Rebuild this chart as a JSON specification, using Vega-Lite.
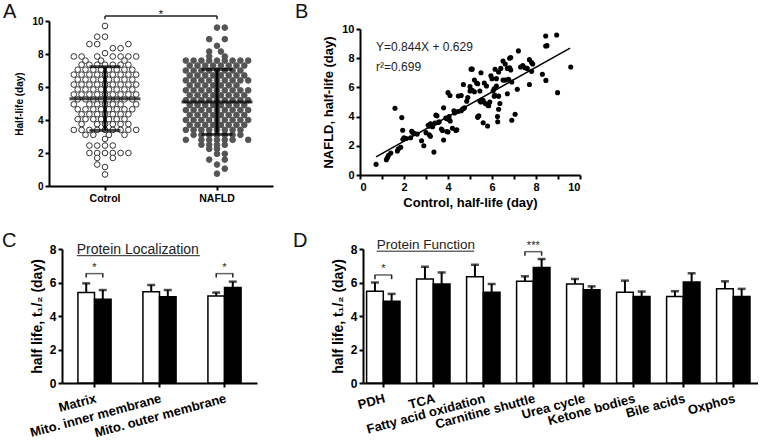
{
"$schema":"https://vega.github.io/schema/vega-lite/v6.json",
"background":"white",
"padding":{"left":2,"top":1,"right":0,"bottom":0},
"config":{"font":"Liberation Sans","view":{"stroke":null},
"axis":{"domainColor":"black","domainWidth":2,"tickColor":"black","tickWidth":2,"tickSize":4,"labelColor":"black","titleColor":"black","labelFontWeight":"bold","titleFontWeight":"bold","grid":false,"labelPadding":2},
"axisY":{"labelOverlap":false}},
"datasets":{
"a":[
{"g":"Cotrol","v":9.7,"s":0},{"g":"Cotrol","v":9.05,"s":-1},{"g":"Cotrol","v":9.05,"s":0},
{"g":"Cotrol","v":8.6,"s":-2},{"g":"Cotrol","v":8.6,"s":-1},{"g":"Cotrol","v":8.6,"s":3},
{"g":"Cotrol","v":8.35,"s":1},{"g":"Cotrol","v":8.35,"s":2},{"g":"Cotrol","v":8.05,"s":0},
{"g":"Cotrol","v":7.85,"s":-4},{"g":"Cotrol","v":7.85,"s":-3},{"g":"Cotrol","v":7.85,"s":-1},{"g":"Cotrol","v":7.85,"s":1},{"g":"Cotrol","v":7.85,"s":2},{"g":"Cotrol","v":7.85,"s":3},{"g":"Cotrol","v":7.85,"s":4},
{"g":"Cotrol","v":7.6,"s":-2.5},{"g":"Cotrol","v":7.6,"s":-0.5},{"g":"Cotrol","v":7.6,"s":2.5},
{"g":"Cotrol","v":7.35,"s":-3},{"g":"Cotrol","v":7.35,"s":-2},{"g":"Cotrol","v":7.35,"s":-1},{"g":"Cotrol","v":7.35,"s":0},{"g":"Cotrol","v":7.35,"s":1},{"g":"Cotrol","v":7.35,"s":2},{"g":"Cotrol","v":7.35,"s":3},
{"g":"Cotrol","v":7.05,"s":-3.5},{"g":"Cotrol","v":7.05,"s":-2.5},{"g":"Cotrol","v":7.05,"s":-1.5},{"g":"Cotrol","v":7.05,"s":-0.5},{"g":"Cotrol","v":7.05,"s":0.5},{"g":"Cotrol","v":7.05,"s":1.5},{"g":"Cotrol","v":7.05,"s":2.5},{"g":"Cotrol","v":7.05,"s":3.5},
{"g":"Cotrol","v":6.75,"s":-4},{"g":"Cotrol","v":6.75,"s":-3},{"g":"Cotrol","v":6.75,"s":-2},{"g":"Cotrol","v":6.75,"s":-1},{"g":"Cotrol","v":6.75,"s":0},{"g":"Cotrol","v":6.75,"s":1},{"g":"Cotrol","v":6.75,"s":2},{"g":"Cotrol","v":6.75,"s":3},{"g":"Cotrol","v":6.75,"s":4},
{"g":"Cotrol","v":6.45,"s":-3.5},{"g":"Cotrol","v":6.45,"s":-2.5},{"g":"Cotrol","v":6.45,"s":-1.5},{"g":"Cotrol","v":6.45,"s":-0.5},{"g":"Cotrol","v":6.45,"s":0.5},{"g":"Cotrol","v":6.45,"s":1.5},{"g":"Cotrol","v":6.45,"s":2.5},{"g":"Cotrol","v":6.45,"s":3.5},
{"g":"Cotrol","v":6.15,"s":-4},{"g":"Cotrol","v":6.15,"s":-3},{"g":"Cotrol","v":6.15,"s":-2},{"g":"Cotrol","v":6.15,"s":-1},{"g":"Cotrol","v":6.15,"s":0},{"g":"Cotrol","v":6.15,"s":1},{"g":"Cotrol","v":6.15,"s":2},{"g":"Cotrol","v":6.15,"s":3},{"g":"Cotrol","v":6.15,"s":4},
{"g":"Cotrol","v":5.85,"s":-3.5},{"g":"Cotrol","v":5.85,"s":-2.5},{"g":"Cotrol","v":5.85,"s":-1.5},{"g":"Cotrol","v":5.85,"s":-0.5},{"g":"Cotrol","v":5.85,"s":0.5},{"g":"Cotrol","v":5.85,"s":1.5},{"g":"Cotrol","v":5.85,"s":2.5},{"g":"Cotrol","v":5.85,"s":3.5},
{"g":"Cotrol","v":5.55,"s":-4},{"g":"Cotrol","v":5.55,"s":-3},{"g":"Cotrol","v":5.55,"s":-2},{"g":"Cotrol","v":5.55,"s":-1},{"g":"Cotrol","v":5.55,"s":0},{"g":"Cotrol","v":5.55,"s":1},{"g":"Cotrol","v":5.55,"s":2},{"g":"Cotrol","v":5.55,"s":3},{"g":"Cotrol","v":5.55,"s":4},
{"g":"Cotrol","v":5.25,"s":-3.5},{"g":"Cotrol","v":5.25,"s":-2.5},{"g":"Cotrol","v":5.25,"s":-1.5},{"g":"Cotrol","v":5.25,"s":-0.5},{"g":"Cotrol","v":5.25,"s":0.5},{"g":"Cotrol","v":5.25,"s":1.5},{"g":"Cotrol","v":5.25,"s":2.5},{"g":"Cotrol","v":5.25,"s":3.5},
{"g":"Cotrol","v":4.95,"s":-4},{"g":"Cotrol","v":4.95,"s":-2},{"g":"Cotrol","v":4.95,"s":-1},{"g":"Cotrol","v":4.95,"s":0},{"g":"Cotrol","v":4.95,"s":1},{"g":"Cotrol","v":4.95,"s":2},{"g":"Cotrol","v":4.95,"s":4},
{"g":"Cotrol","v":4.65,"s":-3.5},{"g":"Cotrol","v":4.65,"s":-2.5},{"g":"Cotrol","v":4.65,"s":-1.5},{"g":"Cotrol","v":4.65,"s":-0.5},{"g":"Cotrol","v":4.65,"s":0.5},{"g":"Cotrol","v":4.65,"s":1.5},{"g":"Cotrol","v":4.65,"s":2.5},{"g":"Cotrol","v":4.65,"s":3.5},
{"g":"Cotrol","v":4.35,"s":-3},{"g":"Cotrol","v":4.35,"s":-2},{"g":"Cotrol","v":4.35,"s":-1},{"g":"Cotrol","v":4.35,"s":0},{"g":"Cotrol","v":4.35,"s":1},{"g":"Cotrol","v":4.35,"s":2},{"g":"Cotrol","v":4.35,"s":3},
{"g":"Cotrol","v":4.05,"s":-3.5},{"g":"Cotrol","v":4.05,"s":-2.5},{"g":"Cotrol","v":4.05,"s":-1.5},{"g":"Cotrol","v":4.05,"s":-0.5},{"g":"Cotrol","v":4.05,"s":0.5},{"g":"Cotrol","v":4.05,"s":1.5},{"g":"Cotrol","v":4.05,"s":2.5},
{"g":"Cotrol","v":3.75,"s":-3},{"g":"Cotrol","v":3.75,"s":-1},{"g":"Cotrol","v":3.75,"s":0},{"g":"Cotrol","v":3.75,"s":1},{"g":"Cotrol","v":3.75,"s":2},{"g":"Cotrol","v":3.75,"s":3},
{"g":"Cotrol","v":3.4,"s":-4},{"g":"Cotrol","v":3.4,"s":-3},{"g":"Cotrol","v":3.4,"s":-2},{"g":"Cotrol","v":3.4,"s":-1},{"g":"Cotrol","v":3.4,"s":0},{"g":"Cotrol","v":3.4,"s":1},{"g":"Cotrol","v":3.4,"s":2},{"g":"Cotrol","v":3.4,"s":3},{"g":"Cotrol","v":3.4,"s":4},
{"g":"Cotrol","v":3.1,"s":-2.5},{"g":"Cotrol","v":3.1,"s":-1.5},{"g":"Cotrol","v":3.1,"s":0.5},{"g":"Cotrol","v":3.1,"s":2.5},
{"g":"Cotrol","v":2.85,"s":0},
{"g":"Cotrol","v":2.45,"s":-2},{"g":"Cotrol","v":2.45,"s":-1},{"g":"Cotrol","v":2.45,"s":0},{"g":"Cotrol","v":2.45,"s":1},
{"g":"Cotrol","v":2.0,"s":-2},{"g":"Cotrol","v":2.0,"s":-1},{"g":"Cotrol","v":2.0,"s":0},{"g":"Cotrol","v":2.0,"s":1},{"g":"Cotrol","v":2.0,"s":2},{"g":"Cotrol","v":2.0,"s":3},
{"g":"Cotrol","v":1.7,"s":-1},{"g":"Cotrol","v":1.7,"s":1},{"g":"Cotrol","v":1.3,"s":-1},{"g":"Cotrol","v":1.15,"s":0},{"g":"Cotrol","v":0.7,"s":0},
{"g":"NAFLD","v":9.6,"s":0},{"g":"NAFLD","v":9.6,"s":1},{"g":"NAFLD","v":8.9,"s":-1},{"g":"NAFLD","v":8.9,"s":1},{"g":"NAFLD","v":8.5,"s":0},
{"g":"NAFLD","v":8.15,"s":-1},{"g":"NAFLD","v":8.15,"s":0.5},{"g":"NAFLD","v":7.85,"s":-1},{"g":"NAFLD","v":7.85,"s":1},
{"g":"NAFLD","v":7.6,"s":-4},{"g":"NAFLD","v":7.6,"s":-3},{"g":"NAFLD","v":7.6,"s":-2},{"g":"NAFLD","v":7.6,"s":-1},{"g":"NAFLD","v":7.6,"s":0},{"g":"NAFLD","v":7.6,"s":1},{"g":"NAFLD","v":7.6,"s":2},{"g":"NAFLD","v":7.6,"s":3},{"g":"NAFLD","v":7.6,"s":4},
{"g":"NAFLD","v":7.3,"s":-3.5},{"g":"NAFLD","v":7.3,"s":-2.5},{"g":"NAFLD","v":7.3,"s":-1.5},{"g":"NAFLD","v":7.3,"s":-0.5},{"g":"NAFLD","v":7.3,"s":0.5},{"g":"NAFLD","v":7.3,"s":1.5},{"g":"NAFLD","v":7.3,"s":2.5},{"g":"NAFLD","v":7.3,"s":3.5},
{"g":"NAFLD","v":7.0,"s":-4},{"g":"NAFLD","v":7.0,"s":-3},{"g":"NAFLD","v":7.0,"s":-2},{"g":"NAFLD","v":7.0,"s":-1},{"g":"NAFLD","v":7.0,"s":0},{"g":"NAFLD","v":7.0,"s":1},{"g":"NAFLD","v":7.0,"s":2},{"g":"NAFLD","v":7.0,"s":3},
{"g":"NAFLD","v":6.7,"s":-3.5},{"g":"NAFLD","v":6.7,"s":-2.5},{"g":"NAFLD","v":6.7,"s":-1.5},{"g":"NAFLD","v":6.7,"s":-0.5},{"g":"NAFLD","v":6.7,"s":0.5},{"g":"NAFLD","v":6.7,"s":1.5},{"g":"NAFLD","v":6.7,"s":2.5},{"g":"NAFLD","v":6.7,"s":3.5},
{"g":"NAFLD","v":6.4,"s":-4},{"g":"NAFLD","v":6.4,"s":-3},{"g":"NAFLD","v":6.4,"s":-2},{"g":"NAFLD","v":6.4,"s":-1},{"g":"NAFLD","v":6.4,"s":0},{"g":"NAFLD","v":6.4,"s":1},{"g":"NAFLD","v":6.4,"s":2},{"g":"NAFLD","v":6.4,"s":3},{"g":"NAFLD","v":6.4,"s":4},
{"g":"NAFLD","v":6.1,"s":-3.5},{"g":"NAFLD","v":6.1,"s":-2.5},{"g":"NAFLD","v":6.1,"s":-1.5},{"g":"NAFLD","v":6.1,"s":-0.5},{"g":"NAFLD","v":6.1,"s":0.5},{"g":"NAFLD","v":6.1,"s":1.5},{"g":"NAFLD","v":6.1,"s":2.5},
{"g":"NAFLD","v":5.8,"s":-4},{"g":"NAFLD","v":5.8,"s":-3},{"g":"NAFLD","v":5.8,"s":-2},{"g":"NAFLD","v":5.8,"s":-1},{"g":"NAFLD","v":5.8,"s":0},{"g":"NAFLD","v":5.8,"s":1},{"g":"NAFLD","v":5.8,"s":2},{"g":"NAFLD","v":5.8,"s":3},{"g":"NAFLD","v":5.8,"s":4},
{"g":"NAFLD","v":5.5,"s":-3.5},{"g":"NAFLD","v":5.5,"s":-2.5},{"g":"NAFLD","v":5.5,"s":-1.5},{"g":"NAFLD","v":5.5,"s":-0.5},{"g":"NAFLD","v":5.5,"s":0.5},{"g":"NAFLD","v":5.5,"s":1.5},{"g":"NAFLD","v":5.5,"s":2.5},{"g":"NAFLD","v":5.5,"s":3.5},
{"g":"NAFLD","v":5.2,"s":-4},{"g":"NAFLD","v":5.2,"s":-3},{"g":"NAFLD","v":5.2,"s":-2},{"g":"NAFLD","v":5.2,"s":-1},{"g":"NAFLD","v":5.2,"s":0},{"g":"NAFLD","v":5.2,"s":1},{"g":"NAFLD","v":5.2,"s":2},{"g":"NAFLD","v":5.2,"s":3},{"g":"NAFLD","v":5.2,"s":4},
{"g":"NAFLD","v":4.9,"s":-3.5},{"g":"NAFLD","v":4.9,"s":-2.5},{"g":"NAFLD","v":4.9,"s":-1.5},{"g":"NAFLD","v":4.9,"s":-0.5},{"g":"NAFLD","v":4.9,"s":0.5},{"g":"NAFLD","v":4.9,"s":1.5},{"g":"NAFLD","v":4.9,"s":2.5},{"g":"NAFLD","v":4.9,"s":3.5},
{"g":"NAFLD","v":4.6,"s":-4},{"g":"NAFLD","v":4.6,"s":-3},{"g":"NAFLD","v":4.6,"s":-2},{"g":"NAFLD","v":4.6,"s":-1},{"g":"NAFLD","v":4.6,"s":0},{"g":"NAFLD","v":4.6,"s":1},{"g":"NAFLD","v":4.6,"s":2},{"g":"NAFLD","v":4.6,"s":3},{"g":"NAFLD","v":4.6,"s":4},
{"g":"NAFLD","v":4.3,"s":-3.5},{"g":"NAFLD","v":4.3,"s":-2.5},{"g":"NAFLD","v":4.3,"s":-1.5},{"g":"NAFLD","v":4.3,"s":-0.5},{"g":"NAFLD","v":4.3,"s":0.5},{"g":"NAFLD","v":4.3,"s":1.5},{"g":"NAFLD","v":4.3,"s":2.5},{"g":"NAFLD","v":4.3,"s":3.5},
{"g":"NAFLD","v":4.0,"s":-4},{"g":"NAFLD","v":4.0,"s":-3},{"g":"NAFLD","v":4.0,"s":-2},{"g":"NAFLD","v":4.0,"s":-1},{"g":"NAFLD","v":4.0,"s":0},{"g":"NAFLD","v":4.0,"s":1},{"g":"NAFLD","v":4.0,"s":2},{"g":"NAFLD","v":4.0,"s":3},{"g":"NAFLD","v":4.0,"s":4},
{"g":"NAFLD","v":3.7,"s":-3.5},{"g":"NAFLD","v":3.7,"s":-2.5},{"g":"NAFLD","v":3.7,"s":-1.5},{"g":"NAFLD","v":3.7,"s":-0.5},{"g":"NAFLD","v":3.7,"s":0.5},{"g":"NAFLD","v":3.7,"s":1.5},{"g":"NAFLD","v":3.7,"s":2.5},{"g":"NAFLD","v":3.7,"s":3.5},
{"g":"NAFLD","v":3.4,"s":-4},{"g":"NAFLD","v":3.4,"s":-3},{"g":"NAFLD","v":3.4,"s":-2},{"g":"NAFLD","v":3.4,"s":-1},{"g":"NAFLD","v":3.4,"s":0},{"g":"NAFLD","v":3.4,"s":1},{"g":"NAFLD","v":3.4,"s":2},{"g":"NAFLD","v":3.4,"s":3},
{"g":"NAFLD","v":3.1,"s":-3},{"g":"NAFLD","v":3.1,"s":-2},{"g":"NAFLD","v":3.1,"s":-1},{"g":"NAFLD","v":3.1,"s":0},{"g":"NAFLD","v":3.1,"s":1},{"g":"NAFLD","v":3.1,"s":2},{"g":"NAFLD","v":3.1,"s":3},
{"g":"NAFLD","v":2.8,"s":-4},{"g":"NAFLD","v":2.8,"s":-2},{"g":"NAFLD","v":2.8,"s":-1},{"g":"NAFLD","v":2.8,"s":0},{"g":"NAFLD","v":2.8,"s":1},{"g":"NAFLD","v":2.8,"s":2},{"g":"NAFLD","v":2.8,"s":4},
{"g":"NAFLD","v":2.5,"s":-2},{"g":"NAFLD","v":2.5,"s":-1},{"g":"NAFLD","v":2.5,"s":0},{"g":"NAFLD","v":2.5,"s":1},
{"g":"NAFLD","v":2.25,"s":-1},{"g":"NAFLD","v":2.25,"s":0},{"g":"NAFLD","v":1.95,"s":0},{"g":"NAFLD","v":1.95,"s":1},
{"g":"NAFLD","v":1.6,"s":-1},{"g":"NAFLD","v":1.6,"s":1},{"g":"NAFLD","v":1.3,"s":0},{"g":"NAFLD","v":1.05,"s":1},{"g":"NAFLD","v":0.75,"s":0}
],
"astat":[{"g":"Cotrol","m":5.29,"lo":3.37,"hi":7.23},{"g":"NAFLD","m":5.09,"lo":3.13,"hi":7.07}],
"abr":[{"x":0.5,"x2":1.5,"y":10.3,"y2":10.3},{"x":0.5,"x2":0.5,"y":10.1,"y2":10.3},{"x":1.5,"x2":1.5,"y":10.1,"y2":10.3}],
"b":[
{"x":0.73,"y":0.73},{"x":1.2,"y":1.05},{"x":1.25,"y":1.2},{"x":1.3,"y":1.35},{"x":1.4,"y":1.5},{"x":1.59,"y":4.57},{"x":1.7,"y":1.65},{"x":1.75,"y":1.8},{"x":1.85,"y":1.9},{"x":1.9,"y":3.93},
{"x":1.94,"y":3.06},{"x":1.95,"y":2.45},{"x":2.0,"y":2.55},{"x":2.1,"y":2.5},{"x":2.3,"y":2.55},{"x":2.4,"y":2.9},{"x":2.45,"y":2.85},{"x":2.35,"y":3.0},{"x":2.6,"y":2.8},{"x":2.8,"y":2.35},
{"x":2.9,"y":2.0},{"x":3.0,"y":2.9},{"x":3.1,"y":3.4},{"x":3.15,"y":3.35},{"x":3.2,"y":3.5},{"x":3.15,"y":2.75},{"x":3.2,"y":2.65},{"x":3.3,"y":3.3},{"x":3.36,"y":1.57},{"x":3.4,"y":3.55},
{"x":3.45,"y":4.1},{"x":3.5,"y":4.05},{"x":3.55,"y":3.6},{"x":3.6,"y":3.65},{"x":3.7,"y":3.15},{"x":3.75,"y":3.05},{"x":3.8,"y":2.4},{"x":3.8,"y":4.6},{"x":3.9,"y":3.9},{"x":3.95,"y":3.85},
{"x":3.95,"y":2.98},{"x":4.0,"y":2.95},{"x":4.05,"y":3.8},{"x":4.1,"y":3.7},{"x":4.0,"y":5.64},{"x":4.09,"y":5.45},{"x":4.05,"y":4.0},{"x":4.2,"y":3.2},{"x":4.27,"y":4.4},{"x":4.3,"y":4.25},
{"x":4.36,"y":3.05},{"x":4.4,"y":3.1},{"x":4.45,"y":4.35},{"x":4.47,"y":5.41},{"x":4.6,"y":4.4},{"x":4.65,"y":4.5},{"x":4.7,"y":6.2},{"x":4.6,"y":5.45},{"x":4.7,"y":4.55},{"x":4.75,"y":4.6},
{"x":4.85,"y":5.05},{"x":4.9,"y":5.3},{"x":5.0,"y":5.75},{"x":5.0,"y":6.05},{"x":5.05,"y":7.25},{"x":5.1,"y":7.25},{"x":5.1,"y":5.8},{"x":5.2,"y":5.7},{"x":5.2,"y":6.5},{"x":5.3,"y":6.3},
{"x":5.35,"y":6.25},{"x":5.36,"y":4.0},{"x":5.4,"y":4.05},{"x":5.35,"y":3.95},{"x":5.45,"y":5.07},{"x":5.5,"y":5.0},{"x":5.45,"y":5.75},{"x":5.5,"y":7.0},{"x":5.55,"y":5.15},{"x":5.6,"y":3.58},
{"x":5.6,"y":5.1},{"x":5.65,"y":6.3},{"x":5.7,"y":4.9},{"x":5.75,"y":6.1},{"x":5.8,"y":3.36},{"x":5.8,"y":4.8},{"x":5.85,"y":4.75},{"x":5.9,"y":5.0},{"x":5.95,"y":6.8},{"x":6.0,"y":6.6},
{"x":6.05,"y":5.75},{"x":6.1,"y":5.4},{"x":6.14,"y":7.24},{"x":6.15,"y":5.45},{"x":6.1,"y":5.9},{"x":6.2,"y":6.6},{"x":6.2,"y":6.1},{"x":6.25,"y":4.0},{"x":6.26,"y":3.65},{"x":6.3,"y":4.5},
{"x":6.3,"y":7.05},{"x":6.36,"y":4.9},{"x":6.3,"y":5.4},{"x":6.4,"y":7.3},{"x":6.5,"y":7.8},{"x":6.5,"y":6.5},{"x":6.6,"y":6.5},{"x":6.6,"y":7.6},{"x":6.7,"y":5.57},{"x":6.7,"y":7.3},
{"x":6.8,"y":8.0},{"x":6.8,"y":7.35},{"x":6.85,"y":7.2},{"x":6.75,"y":6.55},{"x":6.85,"y":8.05},{"x":6.9,"y":6.37},{"x":6.9,"y":3.75},{"x":7.05,"y":4.16},{"x":7.15,"y":5.87},{"x":7.2,"y":8.5},
{"x":7.3,"y":7.4},{"x":7.4,"y":7.5},{"x":7.5,"y":7.35},{"x":7.6,"y":7.3},{"x":7.7,"y":7.9},{"x":7.7,"y":6.2},{"x":7.8,"y":7.7},{"x":7.8,"y":7.1},{"x":7.85,"y":7.6},{"x":8.29,"y":6.9},
{"x":8.44,"y":8.84},{"x":8.5,"y":8.86},{"x":8.44,"y":9.52},{"x":8.45,"y":6.48},{"x":8.94,"y":9.59},{"x":8.98,"y":5.64},{"x":9.58,"y":7.4}
],
"c":[
{"c":"Matrix","g":"Control","v":5.4,"e":5.95},{"c":"Matrix","g":"NAFLD","v":5.0,"e":5.55},
{"c":"Mito. inner membrane","g":"Control","v":5.45,"e":5.85},{"c":"Mito. inner membrane","g":"NAFLD","v":5.15,"e":5.55},
{"c":"Mito. outer membrane","g":"Control","v":5.2,"e":5.4},{"c":"Mito. outer membrane","g":"NAFLD","v":5.7,"e":6.05}
],
"cleg":[
{"c":"Matrix","g":"Control","y":6.3,"y2":6.53},{"c":"Matrix","g":"NAFLD","y":6.3,"y2":6.53},
{"c":"Mito. outer membrane","g":"Control","y":6.3,"y2":6.53},{"c":"Mito. outer membrane","g":"NAFLD","y":6.3,"y2":6.53}
],
"ctop":[{"c":"Matrix","y":6.53,"t":"*","ys":6.68},{"c":"Mito. outer membrane","y":6.53,"t":"*","ys":6.68}],
"d":[
{"c":"PDH","g":"Control","v":5.48,"e":6.0},{"c":"PDH","g":"NAFLD","v":4.88,"e":5.32},
{"c":"TCA","g":"Control","v":6.21,"e":6.94},{"c":"TCA","g":"NAFLD","v":5.91,"e":6.6},
{"c":"Fatty acid oxidation","g":"Control","v":6.35,"e":7.06},{"c":"Fatty acid oxidation","g":"NAFLD","v":5.42,"e":5.91},
{"c":"Carnitine shuttle","g":"Control","v":6.07,"e":6.37},{"c":"Carnitine shuttle","g":"NAFLD","v":6.9,"e":7.4},
{"c":"Urea cycle","g":"Control","v":5.91,"e":6.21},{"c":"Urea cycle","g":"NAFLD","v":5.56,"e":5.77},
{"c":"Ketone bodies","g":"Control","v":5.42,"e":6.11},{"c":"Ketone bodies","g":"NAFLD","v":5.16,"e":5.46},
{"c":"Bile acids","g":"Control","v":5.16,"e":5.48},{"c":"Bile acids","g":"NAFLD","v":6.03,"e":6.55},
{"c":"Oxphos","g":"Control","v":5.62,"e":6.07},{"c":"Oxphos","g":"NAFLD","v":5.16,"e":5.62}
],
"dleg":[
{"c":"PDH","g":"Control","y":6.2,"y2":6.45},{"c":"PDH","g":"NAFLD","y":6.2,"y2":6.45},
{"c":"Carnitine shuttle","g":"Control","y":7.6,"y2":7.84},{"c":"Carnitine shuttle","g":"NAFLD","y":7.6,"y2":7.84}
],
"dtop":[{"c":"PDH","y":6.45,"t":"*","ys":6.6},{"c":"Carnitine shuttle","y":7.84,"t":"***","ys":7.99}]
},
"bounds":"flush",
"columns":2,
"spacing":{"row":63,"column":87},
"resolve":{"scale":{"fill":"independent","stroke":"independent"}},
"concat":[
{"width":224,"height":165,
"layer":[
{"layer":[
{"data":{"name":"a"},"mark":{"type":"circle","size":32,"strokeWidth":1,"opacity":1},
"encoding":{
"x":{"field":"g","type":"nominal","scale":{"domain":["Cotrol","NAFLD"],"paddingInner":0,"paddingOuter":0},"axis":{"title":null,"labelAngle":0,"labelFontSize":10.5,"labelPadding":3}},
"xOffset":{"field":"s","type":"quantitative","scale":{"domain":[-7.18,7.18],"range":[0,112]}},
"y":{"field":"v","type":"quantitative","scale":{"domain":[0,10]},"axis":{"values":[0,2,4,6,8,10],"labelOverlap":false,"title":"Half-life (day)","titleFontSize":10,"labelFontSize":10,"titlePadding":7}},
"fill":{"field":"g","type":"nominal","scale":{"domain":["Cotrol","NAFLD"],"range":["white","#555555"]},"legend":null},
"stroke":{"field":"g","type":"nominal","scale":{"domain":["Cotrol","NAFLD"],"range":["#333333","#555555"]},"legend":null}}},
{"data":{"name":"astat"},"mark":{"type":"rule","strokeWidth":3,"color":"black"},
"encoding":{"x":{"field":"g","type":"nominal"},"y":{"field":"lo","type":"quantitative","axis":{"values":[0,2,4,6,8,10],"labelOverlap":false,"title":"Half-life (day)","titleFontSize":10,"labelFontSize":10,"titlePadding":7}},"y2":{"field":"hi"}}},
{"data":{"name":"astat"},"mark":{"type":"tick","size":71,"thickness":3,"color":"black"},
"encoding":{"x":{"field":"g","type":"nominal"},"y":{"field":"m","type":"quantitative","axis":{"values":[0,2,4,6,8,10],"labelOverlap":false,"title":"Half-life (day)","titleFontSize":10,"labelFontSize":10,"titlePadding":7}}}},
{"data":{"name":"astat"},"mark":{"type":"tick","size":31,"thickness":3,"color":"black"},
"encoding":{"x":{"field":"g","type":"nominal"},"y":{"field":"lo","type":"quantitative","axis":{"values":[0,2,4,6,8,10],"labelOverlap":false,"title":"Half-life (day)","titleFontSize":10,"labelFontSize":10,"titlePadding":7}}}},
{"data":{"name":"astat"},"mark":{"type":"tick","size":31,"thickness":3,"color":"black"},
"encoding":{"x":{"field":"g","type":"nominal"},"y":{"field":"hi","type":"quantitative","axis":{"values":[0,2,4,6,8,10],"labelOverlap":false,"title":"Half-life (day)","titleFontSize":10,"labelFontSize":10,"titlePadding":7}}}}
]},
{"data":{"name":"abr"},"mark":{"type":"rule","strokeWidth":1.5,"color":"#222222"},
"encoding":{"x":{"field":"x","type":"quantitative","scale":{"domain":[0,2]},"axis":null},"x2":{"field":"x2"},"y":{"field":"y","type":"quantitative","axis":{"values":[0,2,4,6,8,10],"labelOverlap":false,"title":"Half-life (day)","titleFontSize":10,"labelFontSize":10,"titlePadding":7}},"y2":{"field":"y2"}}},
{"data":{"values":[{"x":1,"y":10.16,"t":"*"}]},"mark":{"type":"text","fontSize":11,"baseline":"alphabetic","fill":"black"},
"encoding":{"x":{"field":"x","type":"quantitative","scale":{"domain":[0,2]},"axis":null},"y":{"field":"y","type":"quantitative","axis":{"values":[0,2,4,6,8,10],"labelOverlap":false,"title":"Half-life (day)","titleFontSize":10,"labelFontSize":10,"titlePadding":7}},"text":{"field":"t"}}},
{"data":{"values":[{"x":-0.411,"y":11.15,"t":"A"}]},"mark":{"type":"text","fontSize":20,"align":"left","baseline":"top","fill":"#111111"},
"encoding":{"x":{"field":"x","type":"quantitative","scale":{"domain":[0,2]},"axis":null},"y":{"field":"y","type":"quantitative","axis":{"values":[0,2,4,6,8,10],"labelOverlap":false,"title":"Half-life (day)","titleFontSize":10,"labelFontSize":10,"titlePadding":7}},"text":{"field":"t"}}}
],
"resolve":{"scale":{"x":"independent"}}
},
{"width":220,"height":154,
"layer":[
{"data":{"name":"b"},"mark":{"type":"circle","size":26,"color":"black","opacity":1},
"encoding":{
"x":{"field":"x","type":"quantitative","scale":{"domain":[0,10]},"axis":{"values":[0,1,2,3,4,5,6,7,8,9,10],"labelExpr":"datum.value % 2 === 0 ? datum.label : ''","title":"Control, half-life (day)","titleFontSize":13,"labelFontSize":11,"titlePadding":4}},
"y":{"field":"y","type":"quantitative","scale":{"domain":[0,10],"range":[154,8]},"axis":{"values":[0,2,4,6,8,10],"labelOverlap":false,"title":"NAFLD, half-life (day)","titleFontSize":13,"labelFontSize":11,"titlePadding":6}}}},
{"data":{"values":[{"x":0.73,"y":1.245,"x2":9.55,"y2":8.689}]},"mark":{"type":"rule","strokeWidth":1.5,"color":"black"},
"encoding":{"x":{"field":"x","type":"quantitative","axis":{"values":[0,1,2,3,4,5,6,7,8,9,10],"labelExpr":"datum.value % 2 === 0 ? datum.label : ''","title":"Control, half-life (day)","titleFontSize":13,"labelFontSize":11,"titlePadding":4}},"y":{"field":"y","type":"quantitative","axis":{"values":[0,2,4,6,8,10],"labelOverlap":false,"title":"NAFLD, half-life (day)","titleFontSize":13,"labelFontSize":11,"titlePadding":6}},"x2":{"field":"x2"},"y2":{"field":"y2"}}},
{"data":{"values":[{"x":0.73,"y":8.75,"t":"Y=0.844X + 0.629"},{"x":0.73,"y":7.4,"t":"r²=0.699"}]},"mark":{"type":"text","align":"left","baseline":"middle","fontSize":12,"fill":"#222222"},
"encoding":{"x":{"field":"x","type":"quantitative","axis":{"values":[0,1,2,3,4,5,6,7,8,9,10],"labelExpr":"datum.value % 2 === 0 ? datum.label : ''","title":"Control, half-life (day)","titleFontSize":13,"labelFontSize":11,"titlePadding":4}},"y":{"field":"y","type":"quantitative","axis":{"values":[0,2,4,6,8,10],"labelOverlap":false,"title":"NAFLD, half-life (day)","titleFontSize":13,"labelFontSize":11,"titlePadding":6}},"text":{"field":"t"}}},
{"data":{"values":[{"x":-2.95,"y":11.85,"t":"B"}]},"mark":{"type":"text","fontSize":20,"align":"left","baseline":"top","fill":"#111111"},
"encoding":{"x":{"field":"x","type":"quantitative","axis":{"values":[0,1,2,3,4,5,6,7,8,9,10],"labelExpr":"datum.value % 2 === 0 ? datum.label : ''","title":"Control, half-life (day)","titleFontSize":13,"labelFontSize":11,"titlePadding":4}},"y":{"field":"y","type":"quantitative","axis":{"values":[0,2,4,6,8,10],"labelOverlap":false,"title":"NAFLD, half-life (day)","titleFontSize":13,"labelFontSize":11,"titlePadding":6}},"text":{"field":"t"}}}
]},
{"width":208,"height":134,
"layer":[
{"layer":[
{"data":{"name":"c"},"mark":{"type":"bar","stroke":"black","strokeWidth":1.5},
"encoding":{
"x":{"field":"c","type":"nominal","scale":{"domain":["Matrix","Mito. inner membrane","Mito. outer membrane"],"range":[13,208],"paddingInner":0.49,"paddingOuter":0.245},"axis":{"title":null,"labelAngle":-15,"labelAlign":"right","labelBaseline":"top","labelFontSize":13,"labelPadding":5}},
"xOffset":{"field":"g","type":"nominal","scale":{"domain":["Control","NAFLD"]}},
"y":{"field":"v","type":"quantitative","scale":{"domain":[0,8]},"axis":{"tickCount":4,"labelOverlap":false,"offset":-13,"title":"half life, t₁/₂ (day)","titleFontSize":14,"labelFontSize":12,"titlePadding":5}},
"fill":{"field":"g","type":"nominal","scale":{"domain":["Control","NAFLD"],"range":["white","black"]},"legend":null}}},
{"data":{"name":"c"},"mark":{"type":"rule","strokeWidth":2,"color":"black"},
"encoding":{"x":{"field":"c","type":"nominal"},"xOffset":{"field":"g","type":"nominal"},"y":{"field":"v","type":"quantitative"},"y2":{"field":"e"}}},
{"data":{"name":"c"},"mark":{"type":"tick","size":8,"thickness":2.5,"color":"black"},
"encoding":{"x":{"field":"c","type":"nominal"},"xOffset":{"field":"g","type":"nominal"},"y":{"field":"e","type":"quantitative"}}},
{"data":{"name":"cleg"},"mark":{"type":"rule","strokeWidth":1.5,"color":"#222222"},
"encoding":{"x":{"field":"c","type":"nominal"},"xOffset":{"field":"g","type":"nominal"},"y":{"field":"y","type":"quantitative"},"y2":{"field":"y2"}}},
{"data":{"name":"ctop"},"mark":{"type":"tick","size":17.5,"thickness":1.5,"color":"#222222"},
"encoding":{"x":{"field":"c","type":"nominal"},"y":{"field":"y","type":"quantitative"}}},
{"data":{"name":"ctop"},"mark":{"type":"text","fontSize":11,"baseline":"alphabetic","fill":"#222222"},
"encoding":{"x":{"field":"c","type":"nominal"},"y":{"field":"ys","type":"quantitative"},"text":{"field":"t"}}}
]},
{"data":{"values":[{"x":0.226,"y":7.73,"t":"Protein Localization"}]},"mark":{"type":"text","align":"left","baseline":"alphabetic","fontSize":14,"fill":"#222222"},
"encoding":{"x":{"field":"x","type":"quantitative","scale":{"domain":[0,3],"range":[13,208]},"axis":null},"y":{"field":"y","type":"quantitative"},"text":{"field":"t"}}},
{"data":{"values":[{"x":0.226,"x2":2.12,"y":7.6}]},"mark":{"type":"rule","strokeWidth":1,"color":"#222222"},
"encoding":{"x":{"field":"x","type":"quantitative","scale":{"domain":[0,3],"range":[13,208]},"axis":null},"x2":{"field":"x2"},"y":{"field":"y","type":"quantitative"}}},
{"data":{"values":[{"x":-0.923,"y":9.1,"t":"C"}]},"mark":{"type":"text","fontSize":20,"align":"left","baseline":"top","fill":"#111111"},
"encoding":{"x":{"field":"x","type":"quantitative","scale":{"domain":[0,3],"range":[13,208]},"axis":null},"y":{"field":"y","type":"quantitative"},"text":{"field":"t"}}}
],
"resolve":{"scale":{"x":"independent"}}
},
{"width":398,"height":134,
"layer":[
{"layer":[
{"data":{"name":"d"},"mark":{"type":"bar","stroke":"black","strokeWidth":1.5},
"encoding":{
"x":{"field":"c","type":"nominal","scale":{"domain":["PDH","TCA","Fatty acid oxidation","Carnitine shuttle","Urea cycle","Ketone bodies","Bile acids","Oxphos"],"range":[3,398],"paddingInner":0.332,"paddingOuter":0.116,"align":0.31},"axis":{"title":null,"labelAngle":-15,"labelAlign":"right","labelBaseline":"top","labelFontSize":13,"labelPadding":5}},
"xOffset":{"field":"g","type":"nominal","scale":{"domain":["Control","NAFLD"]}},
"y":{"field":"v","type":"quantitative","scale":{"domain":[0,8]},"axis":{"tickCount":4,"labelOverlap":false,"offset":-3,"title":"half life, t₁/₂ (day)","titleFontSize":14,"labelFontSize":12,"titlePadding":5}},
"fill":{"field":"g","type":"nominal","scale":{"domain":["Control","NAFLD"],"range":["white","black"]},"legend":null}}},
{"data":{"name":"d"},"mark":{"type":"rule","strokeWidth":2,"color":"black"},
"encoding":{"x":{"field":"c","type":"nominal"},"xOffset":{"field":"g","type":"nominal"},"y":{"field":"v","type":"quantitative"},"y2":{"field":"e"}}},
{"data":{"name":"d"},"mark":{"type":"tick","size":8,"thickness":2.5,"color":"black"},
"encoding":{"x":{"field":"c","type":"nominal"},"xOffset":{"field":"g","type":"nominal"},"y":{"field":"e","type":"quantitative"}}},
{"data":{"name":"dleg"},"mark":{"type":"rule","strokeWidth":1.5,"color":"#222222"},
"encoding":{"x":{"field":"c","type":"nominal"},"xOffset":{"field":"g","type":"nominal"},"y":{"field":"y","type":"quantitative"},"y2":{"field":"y2"}}},
{"data":{"name":"dtop"},"mark":{"type":"tick","size":17.5,"thickness":1.5,"color":"#222222"},
"encoding":{"x":{"field":"c","type":"nominal"},"y":{"field":"y","type":"quantitative"}}},
{"data":{"name":"dtop"},"mark":{"type":"text","fontSize":11,"baseline":"alphabetic","fill":"#222222"},
"encoding":{"x":{"field":"c","type":"nominal"},"y":{"field":"ys","type":"quantitative"},"text":{"field":"t"}}}
]},
{"data":{"values":[{"x":0.277,"y":8.0,"t":"Protein Function"}]},"mark":{"type":"text","align":"left","baseline":"alphabetic","fontSize":13.5,"fill":"#222222"},
"encoding":{"x":{"field":"x","type":"quantitative","scale":{"domain":[0,8],"range":[3,398]},"axis":null},"y":{"field":"y","type":"quantitative"},"text":{"field":"t"}}},
{"data":{"values":[{"x":0.277,"x2":2.254,"y":7.87}]},"mark":{"type":"rule","strokeWidth":1,"color":"#222222"},
"encoding":{"x":{"field":"x","type":"quantitative","scale":{"domain":[0,8],"range":[3,398]},"axis":null},"x2":{"field":"x2"},"y":{"field":"y","type":"quantitative"}}},
{"data":{"values":[{"x":-1.418,"y":9.1,"t":"D"}]},"mark":{"type":"text","fontSize":20,"align":"left","baseline":"top","fill":"#111111"},
"encoding":{"x":{"field":"x","type":"quantitative","scale":{"domain":[0,8],"range":[3,398]},"axis":null},"y":{"field":"y","type":"quantitative"},"text":{"field":"t"}}}
],
"resolve":{"scale":{"x":"independent"}}
}
]
}
